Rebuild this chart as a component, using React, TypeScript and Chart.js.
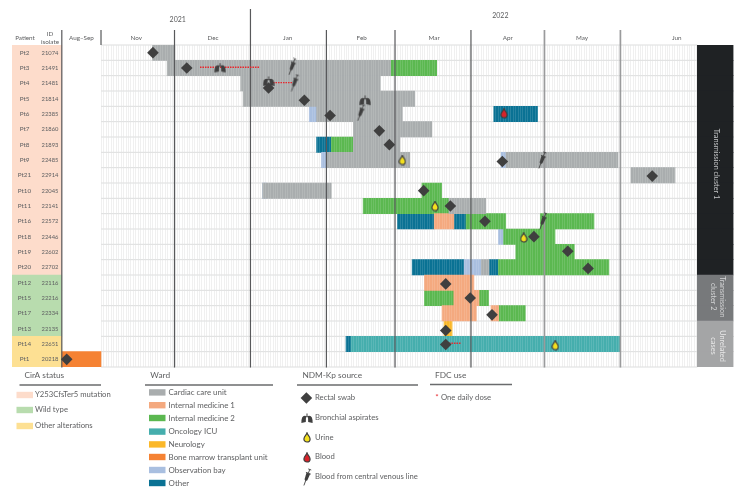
import React, { useEffect, useRef } from "react";
import { Chart, registerables } from "chart.js";

Chart.register(...registerables);

// Rows, top to bottom
const patients = ["Pt2","Pt3","Pt4","Pt5","Pt6","Pt7","Pt8","Pt9","Pt21","Pt10","Pt11","Pt16","Pt18","Pt19","Pt20","Pt12","Pt15","Pt17","Pt13","Pt14","Pt1"];
const isolates = ["21074","21491","21481","21814","22385","21860","21893","22485","22914","22045","22141","22572","22446","22602","22702","22116","22216","22334","22135","22651","20218"];
const ciraStatus = [0,0,0,0,0,0,0,0,0,0,0,0,0,0,0,1,1,1,1,2,2];
const clusterOfRow = [0,0,0,0,0,0,0,0,0,0,0,0,0,0,0,1,1,1,2,2,2];

// Time axis: days since 1 Nov 2021 (the Aug-Sep column is compressed to -16..0)
const months = ["Nov","Dec","Jan","Feb","Mar","Apr","May","Jun"];
const monthStarts = [0,30,61,92,120,151,181,212];
const monthLabelDays = [14.4,45.7,76.2,106.4,136,166,196.3,235];
const yearLabels = ["2021","2022"];
const yearLabelDays = [31.3,163];

// Ward stays: [patient, first day, last day]
type Stay = [string, number, number];
const cardiacCare: Stay[] = [["Pt2",21,30],["Pt3",27,118.2],["Pt4",57,114],["Pt5",58,128],["Pt6",88,123],["Pt7",103,135],["Pt8",103,122],["Pt9",92,126],["Pt9",165.3,211],["Pt21",216.3,234.3],["Pt10",66,94],["Pt11",142,157],["Pt20",155.2,158.4]];
const internalMed1: Stay[] = [["Pt16",136,144],["Pt12",132,152.2],["Pt15",144,154.3],["Pt17",139.2,153.2],["Pt17",159.2,162.3]];
const internalMed2: Stay[] = [["Pt3",118.2,137],["Pt8",94,103],["Pt10",131,139],["Pt11",107,142],["Pt16",149,165.2],["Pt16",179.3,201.2],["Pt18",164.3,185.3],["Pt19",169.3,193.2],["Pt20",162.2,207.3],["Pt15",132,144],["Pt15",154.3,158.2],["Pt17",162.3,173.2]];
const oncologyIcu: Stay[] = [["Pt14",102,212.1]];
const neurology: Stay[] = [["Pt13",140,143.3]];
const boneMarrow: Stay[] = [["Pt1",-16,0]];
const observationBay: Stay[] = [["Pt6",85,88],["Pt9",90,92],["Pt9",163.3,165.3],["Pt10",66,67.5],["Pt18",162.2,164.3],["Pt20",148.2,155.2]];
const otherWard: Stay[] = [["Pt6",160.3,178.2],["Pt8",88,94],["Pt16",121,136],["Pt16",144,149],["Pt20",127,148.2],["Pt20",158.4,162.2],["Pt14",100,102]];

const wardNames = ["Cardiac care unit","Internal medicine 1","Internal medicine 2","Oncology ICU","Neurology","Bone marrow transplant unit","Observation bay","Other"];
const wardColors = ["#a9adae","#f4a97f","#5bb850","#45aead","#fbb829","#f58233","#a9bfe0","#0a7294"];
const wardStays = [cardiacCare,internalMed1,internalMed2,oncologyIcu,neurology,boneMarrow,observationBay,otherWard];

// Isolates: [patient, day, vertical offset in rows]
type Mark = [string, number, number];
const rectalSwab: Mark[] = [["Pt2",21.2,0],["Pt3",35,0],["Pt4",68.4,0.3],["Pt5",83,0.1],["Pt6",93.5,0.1],["Pt7",113.6,0.1],["Pt8",117.7,0],["Pt9",163.8,0.1],["Pt21",225,0.05],["Pt10",131.7,0],["Pt11",142.6,0],["Pt16",156.7,0],["Pt18",176.7,0],["Pt19",190.5,-0.05],["Pt20",198.8,0.07],["Pt12",140.7,0.08],["Pt15",150.7,0],["Pt17",159.6,0.1],["Pt13",140.7,0.12],["Pt14",140.7,0.03],["Pt1",-14,0]];
const bronchialAspirates: Mark[] = [["Pt3",48.6,0],["Pt4",68.4,-0.12],["Pt5",107.8,0.13]];
const urine: Mark[] = [["Pt9",123,0],["Pt11",136.3,0],["Pt18",172.5,0.05],["Pt14",185.4,0.07]];
const blood: Mark[] = [["Pt6",164.5,-0.05]];
const centralLine: Mark[] = [["Pt3",78,-0.1],["Pt4",79,-0.05],["Pt6",106,-0.1],["Pt9",180,0],["Pt16",180.4,-0.03]];
// Once-daily dosing: [patient, first day, last day]
const oneDailyDose: Stay[] = [["Pt3",40.4,64.9],["Pt4",70.2,78],["Pt14",141,146.8]];

const ciraNames = ["Y253CfsTer5 mutation","Wild type","Other alterations"];
const ciraColors = ["#fddccb","#b8dcae","#fde093"];
const clusterColors = ["#1f2224","#77797b","#a4a5a6"];
const markColor = "#3f3f3f";
const textColor = "#5f6062";
const FONT = "Lato, 'Open Sans', sans-serif";

const xMin = -36.33, xMax = 258.16, leftCols = -16, gridEnd = 243.4;

function sprite(w: number, h: number, draw: (c: CanvasRenderingContext2D) => void) {
  const cv = document.createElement("canvas");
  cv.width = w; cv.height = h;
  draw(cv.getContext("2d")!);
  return cv;
}
const dropSprite = (fill: string) => sprite(8, 11, (c) => {
  c.beginPath();
  c.moveTo(4, 0.8);
  c.bezierCurveTo(4.5, 2.8, 7.1, 4.6, 7.1, 6.9);
  c.arc(4, 6.9, 3.1, 0, Math.PI);
  c.bezierCurveTo(0.9, 4.6, 3.5, 2.8, 4, 0.8);
  c.closePath();
  c.fillStyle = fill; c.fill();
  c.strokeStyle = markColor; c.lineWidth = 1.2; c.stroke();
});
const lungSprite = () => sprite(12, 11, (c) => {
  c.fillStyle = markColor;
  for (const s of [-1, 1]) {
    c.beginPath();
    c.moveTo(6 + s * 1, 3);
    c.quadraticCurveTo(6 + s * 5.8, 1.5, 6 + s * 5.6, 10);
    c.lineTo(6 + s * 1.2, 9);
    c.closePath();
    c.fill();
  }
  c.strokeStyle = markColor; c.lineWidth = 1;
  c.beginPath(); c.moveTo(3.5, 6); c.quadraticCurveTo(6, 1, 8.5, 6); c.stroke();
  c.fillRect(5.5, 0.5, 1, 3);
});
const syringeSprite = () => sprite(10, 18, (c) => {
  c.translate(5, 9);
  c.rotate((20 * Math.PI) / 180);
  c.fillStyle = markColor; c.strokeStyle = markColor;
  c.beginPath(); c.moveTo(-1.9, -4); c.lineTo(1.9, -4); c.lineTo(1.5, 3); c.lineTo(0, 4.5); c.lineTo(-1.5, 3); c.closePath(); c.fill();
  c.lineWidth = 0.8;
  c.beginPath(); c.moveTo(0, 4); c.lineTo(0, 9); c.stroke();
  c.beginPath(); c.moveTo(0, -4); c.lineTo(0, -8); c.moveTo(-1.6, -8); c.lineTo(1.6, -8); c.moveTo(-2.6, -4); c.lineTo(2.6, -4); c.stroke();
});

export default function App() {
  const ref = useRef<HTMLCanvasElement>(null);
  useEffect(() => {
    const sprites = {
      lung: lungSprite(),
      urine: dropSprite("#f4e01e"),
      blood: dropSprite("#d8232a"),
      syringe: syringeSprite(),
    };
    const rowOf = (p: string) => patients.indexOf(p);

    const datasets: any[] = [];
    // CirA status column and cluster column
    datasets.push({
      type: "bar", order: 5, grouped: false, barPercentage: 1, categoryPercentage: 1,
      data: patients.map(() => [xMin, leftCols]),
      backgroundColor: ciraStatus.map((s) => ciraColors[s]),
    });
    datasets.push({
      type: "bar", order: 5, grouped: false, barPercentage: 1, categoryPercentage: 1,
      data: patients.map(() => [gridEnd, xMax]),
      backgroundColor: clusterOfRow.map((s) => clusterColors[s]),
    });
    // Ward stays: one dataset per layer, so a patient can return to a ward
    wardStays.forEach((stays, w) => {
      const layers = Math.max(...patients.map((p) => stays.filter((s) => s[0] === p).length));
      for (let l = 0; l < layers; l++) {
        datasets.push({
          type: "bar", order: 3, grouped: false, barPercentage: 1, categoryPercentage: 1,
          label: wardNames[w], backgroundColor: wardColors[w], borderWidth: 0,
          data: patients.map((p) => {
            const s = stays.filter((t) => t[0] === p)[l];
            return s ? [s[1], s[2]] : null;
          }),
        });
      }
    });
    oneDailyDose.forEach((d) => {
      datasets.push({
        type: "line", order: 2, yAxisID: "yM", clip: false, label: "One daily dose",
        borderColor: "#e8262c", borderWidth: 1.3, borderDash: [1.5, 1], pointRadius: 0, fill: false,
        data: [{ x: d[1], y: rowOf(d[0]) - 0.05 }, { x: d[2], y: rowOf(d[0]) - 0.05 }],
      });
    });
    const markDs = (label: string, marks: Mark[], pointStyle: any, radius: number, order: number) => ({
      type: "line", order, yAxisID: "yM", showLine: false, clip: false, label,
      pointStyle, pointRadius: radius, pointBackgroundColor: markColor, pointBorderColor: markColor, pointBorderWidth: 0,
      data: marks.map((m) => ({ x: m[1], y: rowOf(m[0]) + m[2] })),
    });
    datasets.push(markDs("Bronchial aspirates", bronchialAspirates, sprites.lung, 5, 1));
    datasets.push(markDs("Rectal swab", rectalSwab, "rectRot", 5.8, 0));
    datasets.push(markDs("Urine", urine, sprites.urine, 5, 1));
    datasets.push(markDs("Blood", blood, sprites.blood, 5, 1));
    datasets.push(markDs("Blood from central venous line", centralLine, sprites.syringe, 5, 1));

    let overlayDone = false;
    const text = (c: CanvasRenderingContext2D, s: string, x: number, y: number, size = 6.3, align: CanvasTextAlign = "center", color = textColor) => {
      c.font = `${size}px ${FONT}`;
      c.fillStyle = color; c.textAlign = align; c.textBaseline = "middle";
      c.fillText(s, x, y);
    };
    const vtext = (c: CanvasRenderingContext2D, s: string, x: number, y: number, color: string) => {
      c.save(); c.translate(x, y); c.rotate(Math.PI / 2);
      text(c, s, 0, 0, 7.3, "center", color);
      c.restore();
    };
    const plugin = {
      id: "timeline",
      beforeDraw() { overlayDone = false; },
      beforeDatasetsDraw(chart: any) {
        const c: CanvasRenderingContext2D = chart.ctx;
        const x = chart.scales.x, yM = chart.scales.yM;
        const top = chart.chartArea.top, bottom = chart.chartArea.bottom;
        c.save();
        c.lineWidth = 1;
        c.strokeStyle = "#eeeeee";
        for (let d = 0; d <= gridEnd; d++) {
          const px = Math.round(x.getPixelForValue(d)) + 0.5;
          c.beginPath(); c.moveTo(px, top); c.lineTo(px, bottom); c.stroke();
        }
        c.strokeStyle = "#dcdddd";
        for (let r = 0; r <= patients.length; r++) {
          const py = yM.getPixelForValue(r - 0.5);
          c.beginPath(); c.moveTo(x.getPixelForValue(0), py); c.lineTo(x.getPixelForValue(gridEnd), py); c.stroke();
        }
        c.restore();
      },
      beforeDatasetDraw(chart: any, args: any) {
        if (overlayDone || chart.data.datasets[args.index].type !== "line") return;
        overlayDone = true;
        const c: CanvasRenderingContext2D = chart.ctx;
        const x = chart.scales.x;
        const top = chart.chartArea.top, bottom = chart.chartArea.bottom;
        c.save();
        // daily stripes that show through the stays
        c.strokeStyle = "rgba(255,255,255,0.12)";
        c.lineWidth = 1;
        for (let d = 0; d < gridEnd; d++) {
          const px = Math.round(x.getPixelForValue(d)) + 0.5;
          c.beginPath(); c.moveTo(px, top); c.lineTo(px, bottom); c.stroke();
        }
        // month separators
        monthStarts.forEach((d, i) => {
          if (i === 0) return;
          const px = x.getPixelForValue(d);
          c.beginPath();
          c.strokeStyle = i >= 6 ? "#9a9b9c" : "#58595b";
          c.lineWidth = i >= 6 ? 1.7 : 1.2;
          c.moveTo(px, d === 61 ? 9 : 30); c.lineTo(px, bottom + 0.5); c.stroke();
        });
        c.strokeStyle = "#58595b"; c.lineWidth = 1.2;
        const p0 = x.getPixelForValue(leftCols), p1 = x.getPixelForValue(0);
        c.beginPath(); c.moveTo(p0, 30); c.lineTo(p0, bottom + 0.5); c.moveTo(p1, 30); c.lineTo(p1, top); c.stroke();
        c.restore();
      },
      afterDraw(chart: any) {
        const c: CanvasRenderingContext2D = chart.ctx;
        const x = chart.scales.x, yM = chart.scales.yM;
        c.save();
        // header
        text(c, "Patient", 25, 37.5);
        text(c, "ID", 50, 33.5);
        text(c, "isolate", 50, 41.5);
        text(c, "Aug–Sep", x.getPixelForValue(-8), 37.5);
        months.forEach((m, i) => text(c, m, x.getPixelForValue(monthLabelDays[i]), 37.5));
        yearLabels.forEach((y, i) => text(c, y, x.getPixelForValue(yearLabelDays[i]), i === 0 ? 20 : 16, 7, "center", "#5a5b5d"));
        // patient table
        patients.forEach((p, i) => {
          const py = yM.getPixelForValue(i);
          text(c, p, 24.5, py, 6.3);
          text(c, isolates[i], 50, py, 5.8);
        });
        // cluster labels
        vtext(c, "Transmission cluster 1", 716, 164, "#c4c6c7");
        vtext(c, "Transmission", 722.5, 296.7, "#d4d5d6");
        vtext(c, "cluster 2", 713.5, 296.7, "#d4d5d6");
        vtext(c, "Unrelated", 722.5, 346, "#e8e8e8");
        vtext(c, "cases", 713.5, 346, "#e8e8e8");

        // legends
        const title = (s: string, tx: number, x0: number, x1: number, ly: number) => {
          text(c, s, tx, 375, 8.3, "left");
          c.strokeStyle = "#6a6b6d"; c.lineWidth = 1.3;
          c.beginPath(); c.moveTo(x0, ly); c.lineTo(x1, ly); c.stroke();
        };
        title("CirA status", 24.5, 19.5, 101, 385);
        title("Ward", 150.3, 145, 273, 385);
        title("NDM-Kp source", 302.4, 297, 418, 385);
        title("FDC use", 435, 430, 512, 384.5);

        const ciraY = [395, 410, 426];
        ciraNames.forEach((n, i) => {
          c.fillStyle = ciraColors[i];
          c.fillRect(16.5, ciraY[i] - 3.2, 16.5, 6.4);
          text(c, n, 35, ciraY[i], 7.7, "left");
        });
        const wardY = [392.4, 405.2, 418, 431.6, 444.4, 457, 470, 483];
        wardNames.forEach((n, i) => {
          c.fillStyle = wardColors[i];
          c.fillRect(149, wardY[i] - 3.2, 16.5, 6.4);
          text(c, n, 168.6, wardY[i], 7.9, "left");
        });
        const srcY = [398, 418, 437.3, 457, 477];
        const srcNames = ["Rectal swab", "Bronchial aspirates", "Urine", "Blood", "Blood from central venous line"];
        c.fillStyle = markColor;
        c.beginPath();
        c.moveTo(306.4 - 5.8, srcY[0]); c.lineTo(306.4, srcY[0] - 5.8); c.lineTo(306.4 + 5.8, srcY[0]); c.lineTo(306.4, srcY[0] + 5.8); c.closePath(); c.fill();
        [sprites.lung, sprites.urine, sprites.blood, sprites.syringe].forEach((s, i) => {
          c.drawImage(s, Math.round(307 - s.width / 2), Math.round(srcY[i + 1] - s.height / 2));
        });
        srcNames.forEach((n, i) => text(c, n, 315, srcY[i], 7.7, "left"));
        text(c, "*", 437, 397, 8.2, "center", "#e8343a");
        text(c, "One daily dose", 441, 398, 7.7, "left");
        c.restore();
      },
    };

    const chart = new Chart(ref.current!, {
      type: "bar",
      data: { labels: patients, datasets },
      options: {
        indexAxis: "y",
        responsive: false,
        animation: false,
        events: [],
        layout: { padding: { left: 12, right: 20.5, top: 45, bottom: 125 } },
        plugins: { legend: { display: false }, tooltip: { enabled: false } },
        scales: {
          x: { type: "linear", min: xMin, max: xMax, display: false },
          y: { type: "category", display: false, offset: true },
          yM: { type: "linear", min: -0.5, max: patients.length - 0.5, reverse: true, display: false, offset: false },
        },
      } as any,
      plugins: [plugin as any],
    });
    return () => chart.destroy();
  }, []);
  return (
    <div style={{ position: "absolute", left: 0, top: 0, width: 754, height: 492, background: "#fff" }}>
      <canvas ref={ref} width={754} height={492} style={{ display: "block" }} />
    </div>
  );
}
